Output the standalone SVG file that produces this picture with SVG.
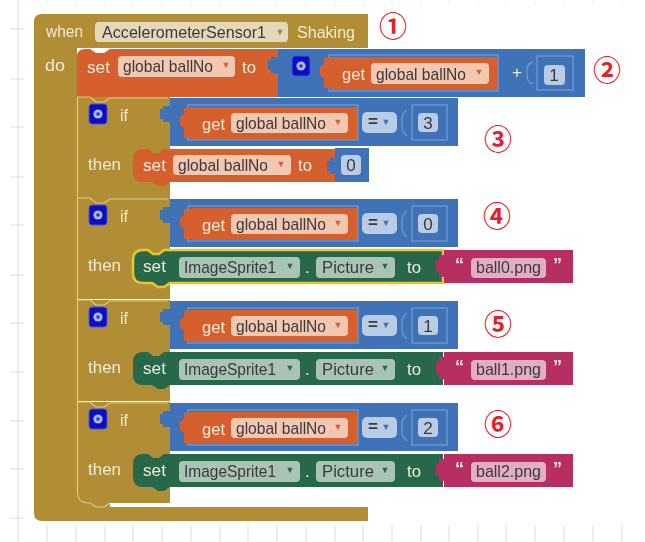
<svg xmlns="http://www.w3.org/2000/svg" xmlns:xlink="http://www.w3.org/1999/xlink" width="645" height="542" viewBox="0 0 645 542">
<style>
text{font-family:"Liberation Sans",Arial,sans-serif;font-size:17px}
.w{fill:#f3ead6}.k{fill:#3a3a3a}.gold{fill:#b18e35}.or{fill:#d65f2e}.bl{fill:#3f72b8}.gr{fill:#27684a}.mg{fill:#b62f62}
.hl{fill:none;stroke:#dcc987;stroke-width:1.2}.slot{fill:none;stroke:#6f97cc;stroke-width:1.4}
.fo{fill:#f2c8b2}.fb{fill:#b9cbe5}.fg{fill:#e3d9ba}.fn{fill:#a9c4b5}.fm{fill:#e3aec4}
.tick{stroke:#dddddd;stroke-width:1;fill:none}
text.num{font-family:"Noto Sans CJK JP","Noto Sans",sans-serif;font-size:28px;font-weight:bold;fill:#e3202a;text-anchor:middle}
text.ar{font-size:9px;text-anchor:middle}
</style>
<defs>
<filter id="soft" x="-2%" y="-2%" width="104%" height="104%"><feGaussianBlur stdDeviation="0.6"/></filter>
<g id="mut"><rect width="18" height="20" rx="3" fill="#0a0ac4" stroke="#3c5cd8"/><circle cx="9" cy="10" r="4.6" fill="#a9b9e0"/><circle cx="9" cy="10" r="1.8" fill="#2a3fb0"/></g>
<path id="tabB" class="bl" d="M10 0H3v3H0v10h3v3h7z"/>
<path id="tabO" class="or" d="M11 0H4v6L0 9l0 8 4 3v10h7z"/>
<path id="tabM" d="M8 0H3v5H0v12h3v5h5z"/>
</defs>
<g id="grid" class="tick">
<path d="M18 0V542"/>
<path d="M10 29H24M10 79H24M10 127H24M10 177H24M10 225H24M10 275H24M10 323H24M10 372H24M10 421H24M10 469H24M10 518H24"/>
<path d="M47 525V542M76 525V542M105 525V542M133 525V542M162 525V542M191 525V542M220 525V542M248 525V542M277 525V542M306 525V542M335 525V542M363 525V542M392 525V542M421 525V542M449 525V542M478 525V542M506 525V542M535 525V542M564 525V542M593 525V542M622 525V542"/>
<path d="M47 1V5M76 1V5M105 1V5M133 1V5M162 1V5M191 1V5M220 1V5M248 1V5M277 1V5M306 1V5M335 1V5M363 1V5M392 1V5M421 1V5M449 1V5M478 1V5M506 1V5M535 1V5M564 1V5M593 1V5M622 1V5" stroke="#eeeeee"/>
</g>
<g filter="url(#soft)">
<g id="when-block">
<path class="gold" d="M42 14H368V48H77V507H368V521H42q-8 0-8-8V22q0-8 8-8z"/>
<text class="w" x="46" y="37" textLength="37" lengthAdjust="spacingAndGlyphs">when</text>
<rect class="fg" x="95" y="22" width="193" height="20" rx="4"/>
<text class="k" x="102" y="38" textLength="164" lengthAdjust="spacingAndGlyphs">AccelerometerSensor1</text>
<text class="ar" x="280" y="35" fill="#8a8a6a">▼</text>
<text class="w" x="297" y="38" textLength="58" lengthAdjust="spacingAndGlyphs">Shaking</text>
<text class="w" x="45" y="71" textLength="20" lengthAdjust="spacingAndGlyphs">do</text>
</g>
<g id="set-ballNo-plus">
<path class="or" d="M85 49H90l6 4h8l6-4H278V97H110l-6 5h-8l-6-5H77V57q0-8 8-8z"/>
<text class="w" x="87" y="73" textLength="23" lengthAdjust="spacingAndGlyphs">set</text>
<rect class="fo" x="118" y="56" width="117" height="21" rx="4"/>
<text class="k" x="123" y="72" textLength="90" lengthAdjust="spacingAndGlyphs">global ballNo</text>
<text class="ar" x="226" y="68" fill="#d65f2e">▼</text>
<text class="w" x="242" y="73" textLength="14" lengthAdjust="spacingAndGlyphs">to</text>
<rect class="bl" x="278" y="49" width="307" height="48"/>
<use xlink:href="#tabB" href="#tabB" x="268" y="57"/>
<use xlink:href="#mut" href="#mut" x="292" y="56"/>
<rect class="slot" x="329" y="55" width="169" height="36"/>
<rect class="or" x="331" y="57" width="166" height="33"/>
<use xlink:href="#tabO" href="#tabO" x="320" y="58"/>
<text class="w" x="342" y="80" textLength="23" lengthAdjust="spacingAndGlyphs">get</text>
<rect class="fo" x="371" y="63" width="118" height="21" rx="4"/>
<text class="k" x="376" y="80" textLength="90" lengthAdjust="spacingAndGlyphs">global ballNo</text>
<text class="ar" x="479" y="75" fill="#d65f2e">▼</text>
<text class="w" x="512" y="78">+</text>
<path class="slot" d="M533 62q-6 1-6 8v6q0 6 6 8"/>
<rect class="slot" x="537" y="56" width="36" height="34"/>
<rect class="fb" x="544" y="65" width="21" height="20" rx="4"/>
<text class="k" x="554" y="81" text-anchor="middle">1</text>
</g>
<g id="if-3">
<path class="gold" d="M77 97H170V198H77z"/>
<path class="hl" d="M77.500 198V97H90l6 5h8l6-4H168"/>
<use xlink:href="#mut" href="#mut" x="89" y="104"/>
<text class="w" x="120" y="121" textLength="8" lengthAdjust="spacingAndGlyphs">if</text>
<text class="w" x="88" y="170" textLength="33" lengthAdjust="spacingAndGlyphs">then</text>
<rect class="bl" x="170" y="98" width="288" height="48"/>
<use xlink:href="#tabB" href="#tabB" x="160" y="106"/>
<rect class="slot" x="188" y="105" width="170" height="35"/>
<rect class="or" x="190" y="107" width="167" height="32"/>
<use xlink:href="#tabO" href="#tabO" x="180" y="108"/>
<text class="w" x="202" y="130" textLength="23" lengthAdjust="spacingAndGlyphs">get</text>
<rect class="fo" x="231" y="113" width="117" height="20" rx="4"/>
<text class="k" x="236" y="129" textLength="90" lengthAdjust="spacingAndGlyphs">global ballNo</text>
<text class="ar" x="338" y="125" fill="#d65f2e">▼</text>
<rect class="fb" x="362" y="112" width="35" height="21" rx="5"/>
<text class="k" x="368" y="127" style="font-weight:bold">=</text>
<text class="ar" x="386" y="125" fill="#3f72b8">▼</text>
<path class="slot" d="M407 110q-5 3-5 10v6q0 6 5 10"/>
<rect class="slot" x="412" y="105" width="35" height="35"/>
<rect class="fb" x="418" y="113" width="20" height="19" rx="4"/>
<text class="k" x="428" y="129" text-anchor="middle">3</text>
</g>
<g id="set-0">
<path class="or" d="M143 149H148l5 4h6l5-4H335V182H170l-6 4h-6l-6-4H143q-10 0-10-10V159q0-10 10-10z"/>
<text class="w" x="143" y="171" textLength="23" lengthAdjust="spacingAndGlyphs">set</text>
<rect class="fo" x="173" y="155" width="118" height="20" rx="4"/>
<text class="k" x="178" y="171" textLength="90" lengthAdjust="spacingAndGlyphs">global ballNo</text>
<text class="ar" x="281" y="167" fill="#d65f2e">▼</text>
<text class="w" x="298" y="171" textLength="14" lengthAdjust="spacingAndGlyphs">to</text>
<rect class="bl" x="335" y="148" width="34" height="34"/>
<use xlink:href="#tabB" href="#tabB" x="327" y="158"/>
<rect class="fb" x="341" y="155" width="20" height="20" rx="4"/>
<text class="k" x="351" y="171" text-anchor="middle">0</text>
</g>
<g id="if-4" transform="translate(0,101)">
<path class="gold" d="M77 97H170V198H77z"/>
<path class="hl" d="M77.500 198V97H90l6 5h8l6-4H168"/>
<use xlink:href="#mut" href="#mut" x="89" y="104"/>
<text class="w" x="120" y="121" textLength="8" lengthAdjust="spacingAndGlyphs">if</text>
<text class="w" x="88" y="170" textLength="33" lengthAdjust="spacingAndGlyphs">then</text>
<rect class="bl" x="170" y="98" width="288" height="48"/>
<use xlink:href="#tabB" href="#tabB" x="160" y="106"/>
<rect class="slot" x="188" y="105" width="170" height="35"/>
<rect class="or" x="190" y="107" width="167" height="32"/>
<use xlink:href="#tabO" href="#tabO" x="180" y="108"/>
<text class="w" x="202" y="130" textLength="23" lengthAdjust="spacingAndGlyphs">get</text>
<rect class="fo" x="231" y="113" width="117" height="20" rx="4"/>
<text class="k" x="236" y="129" textLength="90" lengthAdjust="spacingAndGlyphs">global ballNo</text>
<text class="ar" x="338" y="125" fill="#d65f2e">▼</text>
<rect class="fb" x="362" y="112" width="35" height="21" rx="5"/>
<text class="k" x="368" y="127" style="font-weight:bold">=</text>
<text class="ar" x="386" y="125" fill="#3f72b8">▼</text>
<path class="slot" d="M407 110q-5 3-5 10v6q0 6 5 10"/>
<rect class="slot" x="412" y="105" width="35" height="35"/>
<rect class="fb" x="418" y="113" width="20" height="19" rx="4"/>
<text class="k" x="428" y="129" text-anchor="middle">0</text>
</g>
<g id="set-picture-0" transform="translate(0,101)">
<path class="gr" d="M143 149H148l5 4h6l5-4H443V182H170l-6 4h-6l-6-4H143q-10 0-10-10V159q0-10 10-10z" stroke="#e8c72e" stroke-width="2.500"/>
<text class="w" x="143" y="171" textLength="23" lengthAdjust="spacingAndGlyphs">set</text>
<rect class="fn" x="179" y="156" width="121" height="21" rx="4"/>
<text class="k" x="184" y="172" textLength="92" lengthAdjust="spacingAndGlyphs">ImageSprite1</text>
<text class="ar" x="290" y="168" fill="#27684a">▼</text>
<text class="w" x="305" y="172">.</text>
<rect class="fn" x="316" y="156" width="79" height="21" rx="4"/>
<text class="k" x="322" y="172" textLength="52" lengthAdjust="spacingAndGlyphs">Picture</text>
<text class="ar" x="385" y="168" fill="#27684a">▼</text>
<text class="w" x="407" y="172" textLength="14" lengthAdjust="spacingAndGlyphs">to</text>
<rect class="mg" x="444" y="149" width="129" height="33"/>
<use xlink:href="#tabM" href="#tabM" x="436" y="154" fill="#b62f62"/>
<text class="w" x="455" y="170" style="font-weight:bold;font-size:18px">“</text>
<rect class="fm" x="471" y="157" width="75" height="20" rx="4"/>
<text class="k" x="476" y="172" textLength="65" lengthAdjust="spacingAndGlyphs">ball0.png</text>
<text class="w" x="553" y="170" style="font-weight:bold;font-size:18px">”</text>
</g>
<g id="if-5" transform="translate(0,203)">
<path class="gold" d="M77 97H170V198H77z"/>
<path class="hl" d="M77.500 198V97H90l6 5h8l6-4H168"/>
<use xlink:href="#mut" href="#mut" x="89" y="104"/>
<text class="w" x="120" y="121" textLength="8" lengthAdjust="spacingAndGlyphs">if</text>
<text class="w" x="88" y="170" textLength="33" lengthAdjust="spacingAndGlyphs">then</text>
<rect class="bl" x="170" y="98" width="288" height="48"/>
<use xlink:href="#tabB" href="#tabB" x="160" y="106"/>
<rect class="slot" x="188" y="105" width="170" height="35"/>
<rect class="or" x="190" y="107" width="167" height="32"/>
<use xlink:href="#tabO" href="#tabO" x="180" y="108"/>
<text class="w" x="202" y="130" textLength="23" lengthAdjust="spacingAndGlyphs">get</text>
<rect class="fo" x="231" y="113" width="117" height="20" rx="4"/>
<text class="k" x="236" y="129" textLength="90" lengthAdjust="spacingAndGlyphs">global ballNo</text>
<text class="ar" x="338" y="125" fill="#d65f2e">▼</text>
<rect class="fb" x="362" y="112" width="35" height="21" rx="5"/>
<text class="k" x="368" y="127" style="font-weight:bold">=</text>
<text class="ar" x="386" y="125" fill="#3f72b8">▼</text>
<path class="slot" d="M407 110q-5 3-5 10v6q0 6 5 10"/>
<rect class="slot" x="412" y="105" width="35" height="35"/>
<rect class="fb" x="418" y="113" width="20" height="19" rx="4"/>
<text class="k" x="428" y="129" text-anchor="middle">1</text>
</g>
<g id="set-picture-1" transform="translate(0,203)">
<path class="gr" d="M143 149H148l5 4h6l5-4H443V182H170l-6 4h-6l-6-4H143q-10 0-10-10V159q0-10 10-10z"/>
<text class="w" x="143" y="171" textLength="23" lengthAdjust="spacingAndGlyphs">set</text>
<rect class="fn" x="179" y="156" width="121" height="21" rx="4"/>
<text class="k" x="184" y="172" textLength="92" lengthAdjust="spacingAndGlyphs">ImageSprite1</text>
<text class="ar" x="290" y="168" fill="#27684a">▼</text>
<text class="w" x="305" y="172">.</text>
<rect class="fn" x="316" y="156" width="79" height="21" rx="4"/>
<text class="k" x="322" y="172" textLength="52" lengthAdjust="spacingAndGlyphs">Picture</text>
<text class="ar" x="385" y="168" fill="#27684a">▼</text>
<text class="w" x="407" y="172" textLength="14" lengthAdjust="spacingAndGlyphs">to</text>
<rect class="mg" x="444" y="149" width="129" height="33"/>
<use xlink:href="#tabM" href="#tabM" x="436" y="154" fill="#b62f62"/>
<text class="w" x="455" y="170" style="font-weight:bold;font-size:18px">“</text>
<rect class="fm" x="471" y="157" width="75" height="20" rx="4"/>
<text class="k" x="476" y="172" textLength="65" lengthAdjust="spacingAndGlyphs">ball1.png</text>
<text class="w" x="553" y="170" style="font-weight:bold;font-size:18px">”</text>
</g>
<g id="if-6" transform="translate(0,305)">
<path class="gold" d="M77 97H170V198H110V203H77z"/>
<path class="hl" d="M77.500 188V97H90l6 5h8l6-4H168M77.500 188q0 9 10 10H90l6 4h8l6-4"/>
<use xlink:href="#mut" href="#mut" x="89" y="104"/>
<text class="w" x="120" y="121" textLength="8" lengthAdjust="spacingAndGlyphs">if</text>
<text class="w" x="88" y="170" textLength="33" lengthAdjust="spacingAndGlyphs">then</text>
<rect class="bl" x="170" y="98" width="288" height="48"/>
<use xlink:href="#tabB" href="#tabB" x="160" y="106"/>
<rect class="slot" x="188" y="105" width="170" height="35"/>
<rect class="or" x="190" y="107" width="167" height="32"/>
<use xlink:href="#tabO" href="#tabO" x="180" y="108"/>
<text class="w" x="202" y="130" textLength="23" lengthAdjust="spacingAndGlyphs">get</text>
<rect class="fo" x="231" y="113" width="117" height="20" rx="4"/>
<text class="k" x="236" y="129" textLength="90" lengthAdjust="spacingAndGlyphs">global ballNo</text>
<text class="ar" x="338" y="125" fill="#d65f2e">▼</text>
<rect class="fb" x="362" y="112" width="35" height="21" rx="5"/>
<text class="k" x="368" y="127" style="font-weight:bold">=</text>
<text class="ar" x="386" y="125" fill="#3f72b8">▼</text>
<path class="slot" d="M407 110q-5 3-5 10v6q0 6 5 10"/>
<rect class="slot" x="412" y="105" width="35" height="35"/>
<rect class="fb" x="418" y="113" width="20" height="19" rx="4"/>
<text class="k" x="428" y="129" text-anchor="middle">2</text>
</g>
<g id="set-picture-2" transform="translate(0,305)">
<path class="gr" d="M143 149H148l5 4h6l5-4H443V182H170l-6 4h-6l-6-4H143q-10 0-10-10V159q0-10 10-10z"/>
<text class="w" x="143" y="171" textLength="23" lengthAdjust="spacingAndGlyphs">set</text>
<rect class="fn" x="179" y="156" width="121" height="21" rx="4"/>
<text class="k" x="184" y="172" textLength="92" lengthAdjust="spacingAndGlyphs">ImageSprite1</text>
<text class="ar" x="290" y="168" fill="#27684a">▼</text>
<text class="w" x="305" y="172">.</text>
<rect class="fn" x="316" y="156" width="79" height="21" rx="4"/>
<text class="k" x="322" y="172" textLength="52" lengthAdjust="spacingAndGlyphs">Picture</text>
<text class="ar" x="385" y="168" fill="#27684a">▼</text>
<text class="w" x="407" y="172" textLength="14" lengthAdjust="spacingAndGlyphs">to</text>
<rect class="mg" x="444" y="149" width="129" height="33"/>
<use xlink:href="#tabM" href="#tabM" x="436" y="154" fill="#b62f62"/>
<text class="w" x="455" y="170" style="font-weight:bold;font-size:18px">“</text>
<rect class="fm" x="471" y="157" width="75" height="20" rx="4"/>
<text class="k" x="476" y="172" textLength="65" lengthAdjust="spacingAndGlyphs">ball2.png</text>
<text class="w" x="553" y="170" style="font-weight:bold;font-size:18px">”</text>
</g>
</g>
<g id="connectors"/>
<g id="labels">
<text class="num" x="393" y="37">①</text>
<text class="num" x="607" y="81">②</text>
<text class="num" x="498" y="150">③</text>
<text class="num" x="497" y="227">④</text>
<text class="num" x="498" y="335">⑤</text>
<text class="num" x="498" y="435">⑥</text>
</g>
</svg>
